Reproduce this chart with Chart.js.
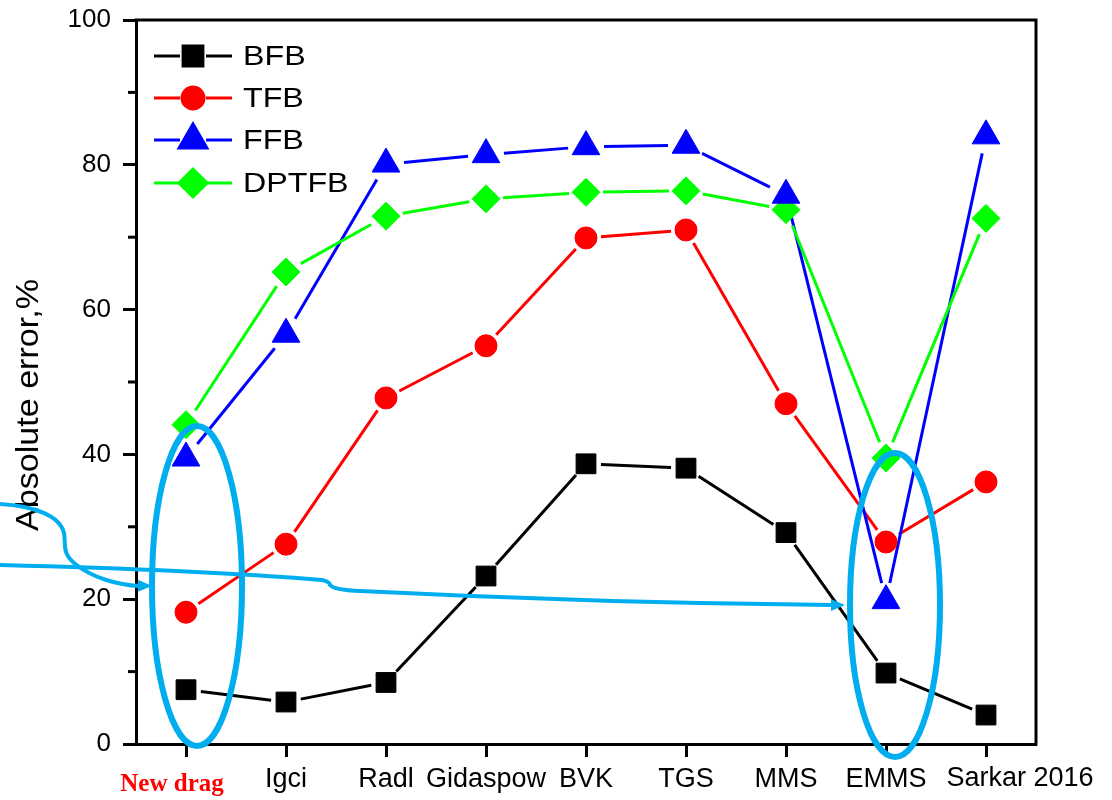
<!DOCTYPE html>
<html>
<head>
<meta charset="utf-8">
<script src="https://cdn.jsdelivr.net/npm/chart.js@4.4.1/dist/chart.umd.min.js"></script>
<style>
  html, body { margin: 0; padding: 0; background: #fff; }
</style>
</head>
<body>
<canvas id="chart" width="1112" height="800"></canvas>
<script>
// drag models on the x axis, absolute error (%) per bed type
const categories = ['New drag', 'Igci', 'Radl', 'Gidaspow', 'BVK', 'TGS', 'MMS', 'EMMS', 'Sarkar 2016']
const bfb = [7.5, 5.8, 8.5, 23.2, 38.7, 38.1, 29.2, 9.8, 4.0]
const tfb = [18.2, 27.6, 47.8, 55.0, 69.9, 71.0, 47.0, 27.9, 36.2]
const ffb = [39.5, 56.6, 80.1, 81.4, 82.5, 82.7, 75.8, 19.8, 84.0]
const dptfb = [44.1, 65.2, 72.9, 75.3, 76.2, 76.4, 73.8, 39.5, 72.6]
const yMinorTicks = [10, 30, 50, 70, 90]

const SANS = '"Liberation Sans", Arial, sans-serif'
const CYAN = '#00AEEF'

const series = [
  { label: 'BFB', data: bfb, color: '#000000', style: 'rect', radius: 14, gap: 15 },
  { label: 'TFB', data: tfb, color: '#FF0000', style: 'circle', radius: 11, gap: 15 },
  { label: 'FFB', data: ffb, color: '#0000FF', style: 'triangle', radius: 16, gap: 18 },
  { label: 'DPTFB', data: dptfb, color: '#00FF00', style: 'rectRot', radius: 14, gap: 17 }
]

// Origin-style connecting lines: segments stop short of each marker
const gappedLines = {
  id: 'gappedLines',
  beforeDatasetsDraw(chart) {
    const ctx = chart.ctx
    chart.data.datasets.forEach((ds, i) => {
      const pts = chart.getDatasetMeta(i).data
      ctx.save()
      ctx.strokeStyle = ds.borderColor
      ctx.lineWidth = 3
      for (let k = 0; k < pts.length - 1; k++) {
        const a = pts[k], b = pts[k + 1]
        const dx = b.x - a.x, dy = b.y - a.y
        const len = Math.hypot(dx, dy)
        if (len <= ds.gap * 2) continue
        const ux = dx / len, uy = dy / len
        ctx.beginPath()
        ctx.moveTo(a.x + ux * ds.gap, a.y + uy * ds.gap)
        ctx.lineTo(b.x - ux * ds.gap, b.y - uy * ds.gap)
        ctx.stroke()
      }
      ctx.restore()
    })
  }
}

// frame, minor ticks, axis title, hand-placed category labels, legend
const decorations = {
  id: 'decorations',
  afterDraw(chart) {
    const ctx = chart.ctx
    const area = chart.chartArea
    const x = chart.scales.x
    const y = chart.scales.y

    ctx.save()
    ctx.strokeStyle = '#000'
    ctx.lineWidth = 3
    ctx.beginPath()
    ctx.moveTo(area.left - 1.5, area.top)
    ctx.lineTo(area.right, area.top)
    ctx.lineTo(area.right, area.bottom + 1.5)
    ctx.stroke()

    yMinorTicks.forEach(v => {
      const py = y.getPixelForValue(v)
      ctx.beginPath()
      ctx.moveTo(area.left - 8, py)
      ctx.lineTo(area.left, py)
      ctx.stroke()
    })

    // y axis title
    ctx.save()
    ctx.translate(29, 405)
    ctx.rotate(-Math.PI / 2)
    ctx.scale(1.1, 1)
    ctx.fillStyle = '#000'
    ctx.font = '31px ' + SANS
    ctx.textAlign = 'center'
    ctx.textBaseline = 'middle'
    ctx.fillText('Absolute error,%', 0, 0)
    ctx.restore()

    // first and last category labels sit off their ticks
    const labelY = area.bottom + 35
    ctx.fillStyle = '#FF0000'
    ctx.font = 'bold 25px "Liberation Serif", "Times New Roman", serif'
    ctx.textAlign = 'center'
    ctx.textBaseline = 'middle'
    ctx.fillText(categories[0], x.getPixelForValue(0) - 14, labelY + 6)
    ctx.fillStyle = '#000'
    ctx.font = '27px ' + SANS
    ctx.fillText(categories[8], x.getPixelForValue(8) + 34, labelY)

    // legend
    const rows = [56, 98, 140, 183]
    chart.data.datasets.forEach((ds, i) => {
      const ry = rows[i]
      ctx.strokeStyle = ds.borderColor
      ctx.fillStyle = ds.borderColor
      ctx.lineWidth = 3
      ctx.beginPath()
      ctx.moveTo(154, ry)
      ctx.lineTo(180, ry)
      ctx.moveTo(206, ry)
      ctx.lineTo(232, ry)
      ctx.stroke()
      Chart.helpers.drawPoint(ctx, {
        pointStyle: ds.pointStyle, radius: ds.pointRadius, rotation: 0, borderWidth: 1
      }, 193, ry)
      ctx.save()
      ctx.translate(243, ry + 1)
      ctx.scale(1.15, 1)
      ctx.fillStyle = '#000'
      ctx.font = '28px ' + SANS
      ctx.textAlign = 'left'
      ctx.textBaseline = 'middle'
      ctx.fillText(ds.label, 0, 0)
      ctx.restore()
    })

    // annotation ellipses around New drag and EMMS
    ctx.strokeStyle = CYAN
    ctx.fillStyle = CYAN
    ctx.lineWidth = 6
    ctx.beginPath()
    ctx.ellipse(x.getPixelForValue(0) + 11, 586, 45, 160, 0, 0, Math.PI * 2)
    ctx.stroke()
    ctx.beginPath()
    ctx.ellipse(x.getPixelForValue(7) + 9, 605, 45, 152, 0, 0, Math.PI * 2)
    ctx.stroke()

    // pointer arrows
    ctx.lineWidth = 4
    ctx.beginPath()
    ctx.moveTo(0, 504)
    ctx.bezierCurveTo(35, 506, 60, 516, 64, 533)
    ctx.bezierCurveTo(66, 546, 62, 552, 74, 563)
    ctx.bezierCurveTo(92, 578, 118, 585, 140, 586)
    ctx.stroke()
    arrowHead(ctx, 152, 586, 1, 0.02)

    ctx.beginPath()
    ctx.moveTo(0, 565)
    ctx.quadraticCurveTo(200, 570, 322, 580)
    ctx.quadraticCurveTo(330, 582, 330, 585)
    ctx.quadraticCurveTo(334, 590, 360, 591)
    ctx.quadraticCurveTo(600, 603, 832, 605)
    ctx.stroke()
    arrowHead(ctx, 845, 605, 1, 0)
    ctx.restore()
  }
}

function arrowHead(ctx, tx, ty, dx, dy) {
  const len = Math.hypot(dx, dy)
  const ux = dx / len, uy = dy / len
  const bx = tx - ux * 14, by = ty - uy * 14
  ctx.beginPath()
  ctx.moveTo(tx, ty)
  ctx.lineTo(bx - uy * 6, by + ux * 6)
  ctx.lineTo(bx + uy * 6, by - ux * 6)
  ctx.closePath()
  ctx.fill()
}

new Chart(document.getElementById('chart'), {
  type: 'line',
  data: {
    labels: categories,
    datasets: series.map(s => ({
      label: s.label,
      data: s.data,
      showLine: false,
      borderColor: s.color,
      backgroundColor: s.color,
      pointStyle: s.style,
      pointRadius: s.radius,
      pointBorderWidth: 1,
      pointBorderColor: s.color,
      pointBackgroundColor: s.color,
      gap: s.gap
    }))
  },
  options: {
    responsive: false,
    animation: false,
    devicePixelRatio: 1,
    layout: { padding: { top: 20, right: 76, left: 0, bottom: 0 } },
    plugins: {
      legend: { display: false },
      tooltip: { enabled: false }
    },
    scales: {
      x: {
        offset: true,
        border: { color: '#000', width: 3 },
        grid: { drawOnChartArea: false, tickLength: 13, tickWidth: 3, tickColor: '#000', offset: false },
        ticks: {
          autoSkip: false,
          maxRotation: 0,
          padding: 6,
          color: '#000',
          font: { family: SANS, size: 27 },
          callback: (val, i) => (i === 0 || i === 8) ? '' : categories[i]
        },
        afterFit: (scale) => {
          scale.height = 56
          scale.paddingLeft = 0
          scale.paddingRight = 0
        }
      },
      y: {
        min: 0,
        max: 100,
        border: { color: '#000', width: 3 },
        grid: { drawOnChartArea: false, tickLength: 13, tickWidth: 3, tickColor: '#000' },
        ticks: {
          stepSize: 20,
          padding: 12,
          color: '#000',
          font: { family: SANS, size: 26 }
        },
        afterFit: (scale) => {
          scale.width = 136
          scale.paddingTop = 0
          scale.paddingBottom = 0
        }
      }
    }
  },
  plugins: [gappedLines, decorations]
})
</script>
</body>
</html>
